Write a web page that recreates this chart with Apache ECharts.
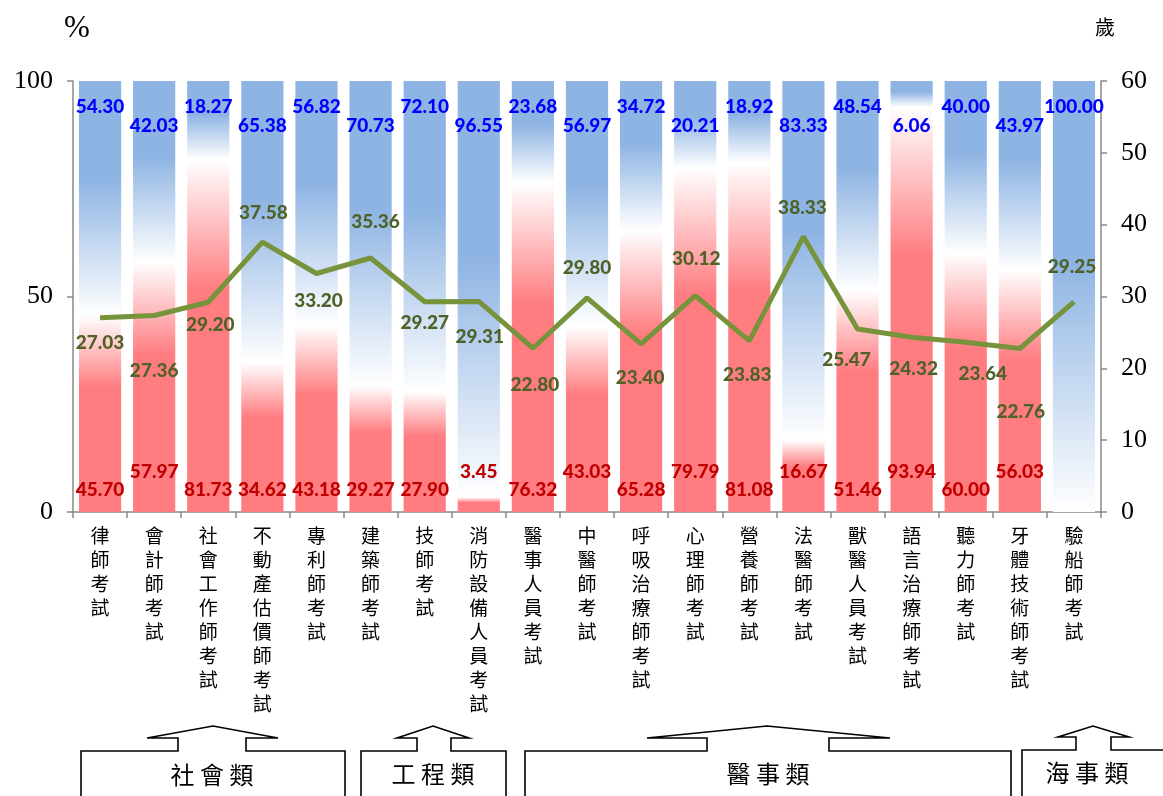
<!DOCTYPE html>
<html>
<head>
<meta charset="utf-8">
<script src="https://cdn.jsdelivr.net/npm/echarts@6/dist/echarts.min.js"></script>
<style>
html,body{margin:0;padding:0;background:#fff;}
#chart{width:1163px;height:796px;}
</style>
</head>
<body>
<div id="chart"></div>
<script>
// ---- data ----
const categories = ['律師考試','會計師考試','社會工作師考試','不動產估價師考試','專利師考試','建築師考試','技師考試','消防設備人員考試','醫事人員考試','中醫師考試','呼吸治療師考試','心理師考試','營養師考試','法醫師考試','獸醫人員考試','語言治療師考試','聽力師考試','牙體技術師考試','驗船師考試'];
const femalePct = [45.70,57.97,81.73,34.62,43.18,29.27,27.90,3.45,76.32,43.03,65.28,79.79,81.08,16.67,51.46,93.94,60.00,56.03,0];
const malePct = [54.30,42.03,18.27,65.38,56.82,70.73,72.10,96.55,23.68,56.97,34.72,20.21,18.92,83.33,48.54,6.06,40.00,43.97,100.00];
const avgAge = [27.03,27.36,29.20,37.58,33.20,35.36,29.27,29.31,22.80,29.80,23.40,30.12,23.83,38.33,25.47,24.32,23.64,22.76,29.25];
const leftTicks = [0, 50, 100];
const groups = ['社會類','工程類','醫事類','海事類'];

// ---- label layout (styling only) ----
const femaleRaised = [1,7,9,11,13,15,17];
const ageLabelOffsets = [[0,25],[0,55],[2,23],[1,-29],[2,27],[5,-36],[0,21],[1,35],[2,37],[0,-30],[-1,34],[1,-37],[-2,34],[-1,-29],[-11,31],[2,32],[17,32],[1,63],[-2,-35]];

const RED = '#FF7C80', BLUE = '#8EB4E3';
const redGrad = new echarts.graphic.LinearGradient(0,0,0,1,[
  {offset:0,color:'#ffffff'},{offset:0.37,color:RED},{offset:1,color:RED}]);
const blueGrad = new echarts.graphic.LinearGradient(0,0,0,1,[
  {offset:0,color:BLUE},{offset:0.42,color:BLUE},{offset:1,color:'#ffffff'}]);

const numFont = {fontFamily:'Lato', fontWeight:900, fontSize:19};

const femaleData = femalePct.map((v,i)=>({
  value:v,
  label:{distance: femaleRaised.indexOf(i)>=0 ? 31 : 13}
}));
const maleData = malePct.map((v,i)=>({
  value:v,
  label:{distance: i%2===1 ? 35 : 16}
}));
const ageData = avgAge.map((v,i)=>({
  value:v,
  label:{offset: ageLabelOffsets[i]}
}));

const chart = echarts.init(document.getElementById('chart'));

function callout(pts){
  return {type:'polyline', shape:{points:pts}, style:{stroke:'#000', lineWidth:1.6, fill:null}, silent:true};
}
function ctext(x,y,t){
  return {type:'text', x:x, y:y, style:{text:t, fontFamily:'Noto Sans CJK TC', fontSize:24, fill:'#000', align:'center', verticalAlign:'middle'}, silent:true};
}

chart.setOption({
  animation:false,
  backgroundColor:'#fff',
  grid:{left:73, right:62, top:81, bottom:284, containLabel:false, outerBoundsMode:'none'},
  xAxis:{
    type:'category', data:categories,
    axisLine:{lineStyle:{color:'#898989', width:1.5}},
    axisTick:{show:true, length:6, lineStyle:{color:'#898989', width:1.5}},
    axisLabel:{
      interval:0, margin:12, color:'#000',
      fontFamily:'Noto Sans CJK TC', fontSize:19, lineHeight:24, verticalAlign:'top',
      formatter:(s)=>s.split('').join('\n')
    }
  },
  yAxis:[{
    type:'value', min:0, max:100, interval:50,
    splitLine:{show:false},
    axisLine:{show:true, lineStyle:{color:'#898989', width:1.5}},
    axisTick:{show:true, length:6, lineStyle:{color:'#898989', width:1.5}},
    axisLabel:{margin:20, color:'#000', fontFamily:'Liberation Serif', fontSize:26,
      formatter:(v)=> leftTicks.indexOf(v)>=0 ? String(v) : ''}
  },{
    type:'value', min:0, max:60, interval:10, position:'right',
    splitLine:{show:false},
    axisLine:{show:true, lineStyle:{color:'#898989', width:1.5}},
    axisTick:{show:true, length:6, lineStyle:{color:'#898989', width:1.5}},
    axisLabel:{margin:20, color:'#000', fontFamily:'Liberation Serif', fontSize:26}
  }],
  series:[{
    name:'女', type:'bar', stack:'pct', data:femaleData,
    itemStyle:{color:redGrad},
    barCategoryGap:'22%',
    label:{show:true, position:'insideBottom', color:'#C00000', ...numFont,
      formatter:(p)=> p.value ? p.value.toFixed(2) : ''}
  },{
    name:'男', type:'bar', stack:'pct', data:maleData,
    itemStyle:{color:blueGrad},
    barCategoryGap:'22%',
    label:{show:true, position:'insideTop', color:'#0000FF', ...numFont,
      formatter:(p)=> p.value.toFixed(2)}
  },{
    name:'平均年齡', type:'line', yAxisIndex:1, data:ageData,
    symbol:'circle', symbolSize:1, z:5,
    itemStyle:{color:'#77933C'},
    lineStyle:{color:'#77933C', width:5},
    label:{show:true, position:'inside', color:'#4F6228', ...numFont,
      formatter:(p)=> p.value.toFixed(2)}
  }],
  graphic:[
    {type:'text', x:77, y:29, style:{text:'%', fontFamily:'Liberation Serif', fontSize:31, fill:'#000', align:'center', verticalAlign:'middle'}},
    {type:'text', x:1105, y:27, style:{text:'歲', fontFamily:'Noto Sans CJK TC', fontSize:20, fill:'#000', align:'center', verticalAlign:'middle'}},
    callout([[81,800],[81,751],[178,751],[178,738],[147,738],[213,726],[278,738],[246,738],[246,751],[345,751],[345,800]]),
    callout([[361,800],[361,751],[417,751],[417,738],[397,738],[433,726],[469,738],[451,738],[451,751],[506,751],[506,800]]),
    callout([[525,800],[525,751],[707,751],[707,738],[647,738],[767,726],[890,738],[829,738],[829,751],[1011,751],[1011,800]]),
    callout([[1022,800],[1022,750],[1076,750],[1076,737],[1058,737],[1093,726],[1129,737],[1111,737],[1111,750],[1170,750]]),
    ctext(212,775,groups[0].split('').join(' ')),
    ctext(433,774,groups[1].split('').join(' ')),
    ctext(768,774,groups[2].split('').join(' ')),
    ctext(1087,773,groups[3].split('').join(' '))
  ]
});
</script>
</body>
</html>
